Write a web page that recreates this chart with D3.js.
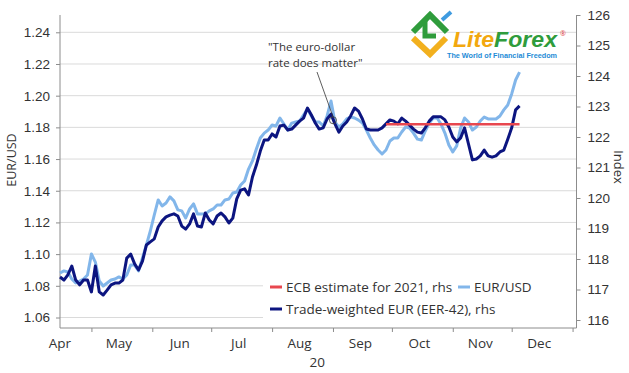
<!DOCTYPE html>
<html>
<head>
<meta charset="utf-8">
<script src="https://cdn.jsdelivr.net/npm/d3@7"></script>
<style>
  body { margin: 0; background: #fff; }
  svg { display: block; font-family: 'Open Sans', 'Noto Sans', sans-serif; }
</style>
</head>
<body>
<div id="chart"></div>
<script>
// sample dates (every second day)
const dates = [
  '2020-04-15', '2020-04-17', '2020-04-19', '2020-04-21', '2020-04-23', '2020-04-25', '2020-04-27', '2020-04-29',
  '2020-05-01', '2020-05-03', '2020-05-05', '2020-05-07', '2020-05-09', '2020-05-11', '2020-05-13', '2020-05-15',
  '2020-05-17', '2020-05-19', '2020-05-21', '2020-05-23', '2020-05-25', '2020-05-27', '2020-05-29', '2020-05-31',
  '2020-06-02', '2020-06-04', '2020-06-06', '2020-06-08', '2020-06-10', '2020-06-12', '2020-06-14', '2020-06-16',
  '2020-06-18', '2020-06-20', '2020-06-22', '2020-06-24', '2020-06-26', '2020-06-28', '2020-06-30',
  '2020-07-02', '2020-07-04', '2020-07-06', '2020-07-08', '2020-07-10', '2020-07-12', '2020-07-14', '2020-07-16',
  '2020-07-18', '2020-07-20', '2020-07-22', '2020-07-24', '2020-07-26', '2020-07-28', '2020-07-30',
  '2020-08-01', '2020-08-03', '2020-08-05', '2020-08-07', '2020-08-09', '2020-08-11', '2020-08-13', '2020-08-15',
  '2020-08-17', '2020-08-19', '2020-08-21', '2020-08-23', '2020-08-25', '2020-08-27', '2020-08-29', '2020-08-31',
  '2020-09-02', '2020-09-04', '2020-09-06', '2020-09-08', '2020-09-10', '2020-09-12', '2020-09-14', '2020-09-16',
  '2020-09-18', '2020-09-20', '2020-09-22', '2020-09-24', '2020-09-26', '2020-09-28', '2020-09-30',
  '2020-10-02', '2020-10-04', '2020-10-06', '2020-10-08', '2020-10-10', '2020-10-12', '2020-10-14', '2020-10-16',
  '2020-10-18', '2020-10-20', '2020-10-22', '2020-10-24', '2020-10-26', '2020-10-28', '2020-10-30',
  '2020-11-01', '2020-11-03', '2020-11-05', '2020-11-07', '2020-11-09', '2020-11-11', '2020-11-13', '2020-11-15',
  '2020-11-17', '2020-11-19', '2020-11-21', '2020-11-23', '2020-11-25', '2020-11-27', '2020-11-29',
  '2020-12-01', '2020-12-03', '2020-12-05'
]

// EUR/USD, lhs
const eurUsd = [
  1.0881, 1.0894, 1.0887, 1.0843, 1.0818, 1.0830, 1.0843, 1.0868,
  1.1001, 1.0950, 1.0830, 1.0799, 1.0818, 1.0837, 1.0843, 1.0856, 1.0843, 1.0868, 1.0931, 1.0931, 1.0894, 1.0976, 1.1058, 1.1146,
  1.1247, 1.1342, 1.1304, 1.1323, 1.1361, 1.1336, 1.1279, 1.1273, 1.1228, 1.1285, 1.1317, 1.1254, 1.1254, 1.1254, 1.1273,
  1.1285, 1.1310, 1.1310, 1.1342, 1.1348, 1.1386, 1.1392, 1.1436, 1.1462, 1.1537, 1.1588, 1.1664, 1.1733, 1.1764, 1.1783,
  1.1815, 1.1809, 1.1859, 1.1821, 1.1783, 1.1827, 1.1834, 1.1840, 1.1878, 1.1916, 1.1872, 1.1834, 1.1834, 1.1809, 1.1872, 1.1966,
  1.1834, 1.1802, 1.1821, 1.1853, 1.1865, 1.1859, 1.1846, 1.1827, 1.1783, 1.1733, 1.1689, 1.1657, 1.1632, 1.1657, 1.1714,
  1.1733, 1.1733, 1.1771, 1.1802, 1.1796, 1.1764, 1.1726, 1.1720, 1.1777, 1.1827, 1.1859, 1.1859, 1.1821, 1.1764, 1.1689,
  1.1645, 1.1683, 1.1796, 1.1859, 1.1834, 1.1783, 1.1802, 1.1840, 1.1865, 1.1853, 1.1853, 1.1853, 1.1872, 1.1910, 1.1941,
  1.2011, 1.2099, 1.2149
]

// Trade-weighted EUR (EER-42), rhs
const eer42 = [
  117.41, 117.31, 117.48, 117.77, 117.31, 117.15, 117.31, 117.31,
  116.92, 117.77, 116.92, 116.82, 116.98, 117.15, 117.21, 117.21, 117.31, 118.03, 118.16, 117.84, 117.64, 117.93, 118.46, 118.56,
  118.66, 119.05, 119.25, 119.38, 119.44, 119.48, 119.41, 119.08, 118.98, 119.15, 119.48, 119.08, 119.05, 119.51, 119.28,
  119.15, 119.41, 119.51, 119.38, 119.18, 119.34, 119.97, 120.26, 120.30, 120.10, 120.69, 121.08, 121.54, 121.90, 121.90,
  122.10, 122.00, 122.36, 122.39, 122.23, 122.26, 122.39, 122.52, 122.62, 122.95, 122.72, 122.46, 122.26, 122.30, 122.59, 122.75,
  122.43, 122.16, 122.36, 122.49, 122.69, 122.95, 122.85, 122.59, 122.26, 122.23, 122.23, 122.23, 122.30, 122.43, 122.56,
  122.52, 122.43, 122.62, 122.52, 122.39, 122.26, 122.16, 122.13, 122.30, 122.52, 122.66, 122.66, 122.66, 122.56, 122.33,
  122.00, 121.84, 121.97, 122.30, 121.77, 121.25, 121.28, 121.38, 121.57, 121.38, 121.34, 121.38, 121.51, 121.57, 121.93,
  122.30, 122.89, 123.02
]

// ECB estimate for 2021, rhs
const ecbDates = ['2020-09-28', '2020-12-05']
const ecbValue = 122.42

const leftTicks = [1.06, 1.08, 1.10, 1.12, 1.14, 1.16, 1.18, 1.20, 1.22, 1.24]
const rightTicks = [116, 117, 118, 119, 120, 121, 122, 123, 124, 125, 126]
const monthLabels = ['Apr', 'May', 'Jun', 'Jul', 'Aug', 'Sep', 'Oct', 'Nov', 'Dec']

const colors = {eur: '#82b6ea', eer: '#0c1580', ecb: '#e8474f', text: '#333', axis: '#8c8c8c', grid: '#dadada'}

const width = 629
const height = 373
const plot = {left: 60, right: 576.5, top: 15, bottom: 328}

const parse = d3.timeParse('%Y-%m-%d')

let svg = d3.select('#chart').append('svg')
  .attr('width', width)
  .attr('height', height)

let x = d3.scaleTime()
  .domain([parse('2020-04-15'), parse('2021-01-03')])
  .range([plot.left, plot.right])
let yL = d3.scaleLinear().domain([1.06, 1.24]).range([317.5, 32.3])
let yR = d3.scaleLinear().domain([116, 126]).range([320, 15])

// gridlines (lhs)
svg.append('g').selectAll('line').data(leftTicks).enter().append('line')
  .attr('x1', plot.left).attr('x2', plot.right)
  .attr('y1', d => yL(d)).attr('y2', d => yL(d))
  .attr('stroke', colors.grid).attr('stroke-width', 1)

// left axis
let gl = svg.append('g').attr('transform', `translate(${plot.left},0)`)
  .call(d3.axisLeft(yL).tickValues(leftTicks).tickSize(4).tickPadding(6).tickFormat(d3.format('.2f')))
gl.select('.domain').remove()
gl.append('line').attr('y1', plot.top).attr('y2', plot.bottom).attr('stroke', colors.axis)

// right axis
let gr = svg.append('g').attr('transform', `translate(${plot.right},0)`)
  .call(d3.axisRight(yR).tickValues(rightTicks).tickSize(4).tickPadding(7))
gr.select('.domain').remove()
gr.append('line').attr('y1', plot.top).attr('y2', plot.bottom).attr('stroke', colors.axis)

// bottom axis: ticks on month starts, labels mid-month
let gb = svg.append('g').attr('transform', `translate(0,${plot.bottom})`)
  .call(d3.axisBottom(x).tickValues(d3.timeMonth.range(parse('2020-05-01'), parse('2021-01-02'))).tickSize(4).tickFormat(''))
gb.select('.domain').remove()
gb.append('line').attr('x1', plot.left).attr('x2', plot.right).attr('stroke', colors.axis)

;[gl, gr, gb].forEach(g => {
  g.selectAll('.tick line').attr('stroke', colors.axis)
  g.selectAll('.tick text').attr('fill', colors.text).style('font-size', '13.5px').style('font-family', null)
})

svg.append('g').selectAll('text').data(monthLabels).enter().append('text')
  .attr('x', (d, i) => x(new Date(2020, 3 + i, 15)))
  .attr('y', 348)
  .attr('text-anchor', 'middle')
  .attr('fill', colors.text)
  .style('font-size', '13.5px')
  .text(d => d)
svg.append('text')
  .attr('x', x(new Date(2020, 7, 24))).attr('y', 367)
  .attr('text-anchor', 'middle').attr('fill', colors.text)
  .style('font-size', '13.5px')
  .text('20')

// axis titles
svg.append('text')
  .attr('transform', 'translate(16,160) rotate(-90)')
  .attr('text-anchor', 'middle').attr('fill', colors.text)
  .style('font-size', '12.5px')
  .text('EUR/USD')
svg.append('text')
  .attr('transform', 'translate(614,167) rotate(90)')
  .attr('text-anchor', 'middle').attr('fill', colors.text)
  .style('font-size', '13px')
  .text('Index')

// series
let eurData = dates.map((d, i) => ({date: parse(d), value: eurUsd[i]}))
let eerData = dates.map((d, i) => ({date: parse(d), value: eer42[i]}))

let lineL = d3.line().x(d => x(d.date)).y(d => yL(d.value)).curve(d3.curveLinear)
let lineR = d3.line().x(d => x(d.date)).y(d => yR(d.value)).curve(d3.curveLinear)

svg.append('path').datum(eurData)
  .attr('d', lineL)
  .attr('fill', 'none').attr('stroke', colors.eur).attr('stroke-width', 3)
  .attr('stroke-linejoin', 'round')
svg.append('path').datum(eerData)
  .attr('d', lineR)
  .attr('fill', 'none').attr('stroke', colors.eer).attr('stroke-width', 3)
  .attr('stroke-linejoin', 'round')
svg.append('path').datum(ecbDates.map(d => ({date: parse(d), value: ecbValue})))
  .attr('d', lineR)
  .attr('fill', 'none').attr('stroke', colors.ecb).attr('stroke-width', 2.5)

// annotation
let anchor = {date: parse('2020-09-01'), value: 1.1845}
let ax = x(anchor.date)
let ay = yL(anchor.value)
svg.append('line')
  .attr('x1', 317).attr('y1', 72).attr('x2', ax).attr('y2', ay - 3.5)
  .attr('stroke', '#333').attr('stroke-width', 0.8)
svg.append('circle')
  .attr('cx', ax).attr('cy', ay).attr('r', 3.5)
  .attr('fill', 'none').attr('stroke', '#444').attr('stroke-width', 0.9)
let note = svg.append('text').attr('fill', colors.text).style('font-size', '11.5px')
note.append('tspan').attr('x', 268).attr('y', 51).text('"The euro-dollar')
note.append('tspan').attr('x', 268).attr('y', 67).text('rate does matter"')

// legend
let legend = svg.append('g')
legend.append('rect')
  .attr('x', 263).attr('y', 277).attr('width', plot.right - 263.5).attr('height', plot.bottom - 278)
  .attr('fill', '#fff')
let legendItems = [
  {label: 'ECB estimate for 2021, rhs', color: colors.ecb, x: 270, y: 287},
  {label: 'EUR/USD', color: colors.eur, x: 458, y: 287},
  {label: 'Trade-weighted EUR (EER-42), rhs', color: colors.eer, x: 270, y: 309}
]
let li = legend.selectAll('g.item').data(legendItems).enter().append('g').attr('class', 'item')
li.append('line')
  .attr('x1', d => d.x).attr('x2', d => d.x + 12)
  .attr('y1', d => d.y).attr('y2', d => d.y)
  .attr('stroke', d => d.color).attr('stroke-width', 3)
li.append('text')
  .attr('x', d => d.x + 16).attr('y', d => d.y)
  .attr('dy', '0.35em')
  .attr('fill', colors.text)
  .style('font-size', '13.5px')
  .text(d => d.label)

// LiteForex watermark
let logo = svg.append('g')
logo.append('polyline').attr('points', '413,32 430,15 447,32')
  .attr('fill', 'none').attr('stroke', '#2f9c3c').attr('stroke-width', 6)
logo.append('polyline').attr('points', '425,21 425,36 436,36')
  .attr('fill', 'none').attr('stroke', '#2f9c3c').attr('stroke-width', 5)
logo.append('polyline').attr('points', '413,38 430,54 446,38')
  .attr('fill', 'none').attr('stroke', '#f2b01e').attr('stroke-width', 6)
logo.append('line').attr('x1', 442).attr('y1', 20).attr('x2', 451).attr('y2', 12)
  .attr('stroke', '#3f9be0').attr('stroke-width', 4)
let brand = logo.append('text')
  .attr('x', 453).attr('y', 47)
  .attr('textLength', 104).attr('lengthAdjust', 'spacingAndGlyphs')
  .style('font-family', 'Liberation Sans, Arial, sans-serif')
  .style('font-size', '22px').style('font-weight', 'bold').style('font-style', 'italic')
brand.append('tspan').attr('fill', '#f2a80f').text('Lite')
brand.append('tspan').attr('fill', '#2f9c3c').text('Forex')
logo.append('text').attr('x', 560).attr('y', 36)
  .attr('fill', '#e04040').style('font-size', '7px').text('®')
logo.append('text')
  .attr('x', 447).attr('y', 58)
  .attr('textLength', 110).attr('lengthAdjust', 'spacingAndGlyphs')
  .attr('fill', '#1d8bd6')
  .style('font-family', 'Liberation Sans, Arial, sans-serif')
  .style('font-size', '7.5px').style('font-weight', 'bold')
  .text('The World of Financial Freedom')
</script>
</body>
</html>
